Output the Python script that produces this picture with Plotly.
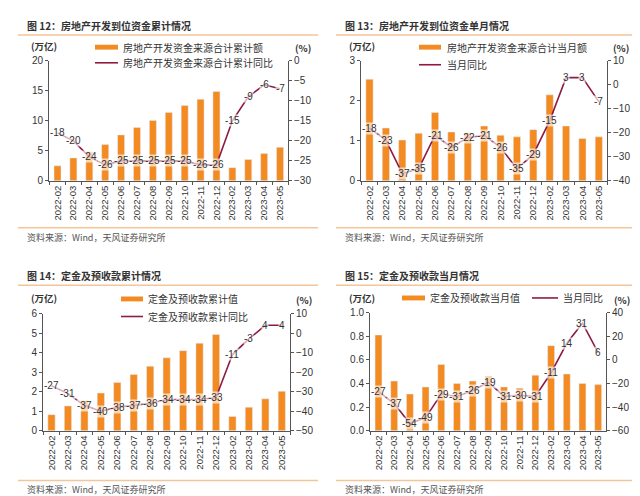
import plotly.graph_objects as go

W, H = 640, 496
CJK = "Noto Sans CJK SC"
NUM = "Liberation Sans, Arial, sans-serif"
BAR_C = "#F38A22"
LINE_C = "#8E1B45"
AX_C = "#555555"
SEP_C = "#F4C59A"

months = ["2022-02", "2022-03", "2022-04", "2022-05", "2022-06", "2022-07", "2022-08",
          "2022-09", "2022-10", "2022-11", "2022-12", "2023-02", "2023-03", "2023-04", "2023-05"]

# Panel 1: cumulative development funds (万亿) and YoY (%)
fund_cum = [2.5, 3.82, 4.86, 6.04, 7.65, 8.88, 10.07, 11.4, 12.55, 13.61, 14.9, 2.2, 3.55, 4.54, 5.59]
fund_cum_yoy = [-18, -20, -24, -26, -25, -25, -25, -25, -25, -26, -26, -15, -9, -6, -7]

# Panel 2: monthly development funds (万亿) and YoY (%)
fund_mon = [2.54, 1.32, 1.02, 1.19, 1.71, 1.22, 1.2, 1.37, 1.14, 1.1, 1.28, 2.15, 1.37, 1.06, 1.1]
fund_mon_yoy = [-18, -23, -37, -35, -21, -26, -22, -21, -26, -35, -29, -15, 3, 3, -7]

# Panel 3: cumulative deposits & advance payments (万亿) and YoY (%)
dep_cum = [0.82, 1.27, 1.55, 1.93, 2.47, 2.88, 3.3, 3.73, 4.1, 4.48, 4.93, 0.73, 1.2, 1.63, 2.02]
dep_cum_yoy = [-27, -31, -37, -40, -38, -37, -36, -34, -34, -34, -33, -11, -3, 4, 4]

# Panel 4: monthly deposits & advance payments (万亿) and YoY (%)
dep_mon = [0.81, 0.42, 0.31, 0.37, 0.56, 0.4, 0.42, 0.46, 0.37, 0.36, 0.47, 0.72, 0.48, 0.4, 0.39]
dep_mon_yoy = [-27, -37, -54, -49, -29, -31, -26, -19, -31, -30, -31, -11, 14, 31, 6]

panels = [
    dict(title="图 12：房地产开发到位资金累计情况", bars=fund_cum, yoy=fund_cum_yoy,
         bar_name="房地产开发资金来源合计累计额", line_name="房地产开发资金来源合计累计同比",
         plot=(41, 280, 48, 171), yl=(0, 20, 5, None), yr=(-30, 0, 5),
         tx=17, ty=12, sep=(10, 310, 21.5), unit=(21, 33), pct=(285, 35),
         leg_bar=(87, 110, 34), leg_bar_t=113, leg_line=(87, 110, 50), leg_line_t=113,
         bsep=219, src=(17, 229)),
    dict(title="图 13：房地产开发到位资金单月情况", bars=fund_mon, yoy=fund_mon_yoy,
         bar_name="房地产开发资金来源合计当月额", line_name="当月同比",
         plot=(353, 599, 48, 171), yl=(0, 3, 1, None), yr=(-40, 10, 10),
         tx=335, ty=12, sep=(328, 628, 21.5), unit=(339, 33), pct=(603, 35),
         leg_bar=(411, 433, 34), leg_bar_t=437, leg_line=(411, 433, 52), leg_line_t=437,
         bsep=219, src=(335, 229)),
    dict(title="图 14：定金及预收款累计情况", bars=dep_cum, yoy=dep_cum_yoy,
         bar_name="定金及预收款累计值", line_name="定金及预收款累计同比",
         plot=(35, 282, 307, 427), yl=(0, 6, 1, None), yr=(-50, 10, 10),
         tx=17, ty=268, sep=(10, 310, 278), unit=(21, 291), pct=(286, 293),
         leg_bar=(113, 135, 292), leg_bar_t=138, leg_line=(113, 135, 310), leg_line_t=138,
         bsep=478, src=(17, 487)),
    dict(title="图 15：定金及预收款当月情况", bars=dep_mon, yoy=dep_mon_yoy,
         bar_name="定金及预收款当月值", line_name="当月同比",
         plot=(362, 598, 306, 427), yl=(0, 1.0, 0.2, ".1f"), yr=(-60, 40, 20),
         tx=335, ty=268, sep=(328, 628, 278), unit=(339, 291), pct=(604, 293),
         leg_bar=(394, 417, 291), leg_bar_t=420, leg_line=(524, 550, 291), leg_line_t=553,
         bsep=478, src=(335, 487)),
]


def px(x):
    return x / W


def py(y):
    return 1 - y / H


fig = go.Figure()
annotations = []
shapes = []
layout = {}


def add_text(x, y, s, size, color, family=CJK, xanchor="left"):
    annotations.append(dict(xref="paper", yref="paper", x=px(x), y=py(y), text=s,
                            showarrow=False, xanchor=xanchor, yanchor="middle",
                            font=dict(size=size, color=color, family=family)))


for i, p in enumerate(panels):
    xn = "x" if i == 0 else f"x{i + 1}"
    yl_n = "y" if i == 0 else f"y{2 * i + 1}"
    yr_n = f"y{2 * i + 2}"
    xkey = "xaxis" if i == 0 else f"xaxis{i + 1}"
    ylkey = "yaxis" if i == 0 else f"yaxis{2 * i + 1}"
    yrkey = f"yaxis{2 * i + 2}"
    l, r, t, b = p["plot"]

    fig.add_trace(go.Bar(x=months, y=p["bars"], name=p["bar_name"], marker_color=BAR_C,
                         xaxis=xn, yaxis=yl_n, showlegend=False, hoverinfo="x+y"))
    fig.add_trace(go.Scatter(x=months, y=p["yoy"], name=p["line_name"], mode="lines",
                             line=dict(color=LINE_C, width=1.6), xaxis=xn, yaxis=yr_n,
                             showlegend=False))

    axis_common = dict(showline=True, linecolor=AX_C, linewidth=1, ticks="outside",
                       ticklen=3, tickcolor=AX_C, showgrid=False, zeroline=False,
                       tickfont=dict(size=10, color="#333333", family=NUM))
    layout[xkey] = dict(axis_common, domain=[px(l), px(r)], anchor=yl_n, type="category",
                        tickson="boundaries", tickangle=-90,
                        tickfont=dict(size=9.5, color="#333333", family=NUM))
    y0, y1, dt, fmt = p["yl"]
    layout[ylkey] = dict(axis_common, domain=[py(b), py(t)], anchor=xn, range=[y0, y1],
                         dtick=dt, tick0=0, side="left")
    if fmt:
        layout[ylkey]["tickformat"] = fmt
    r0, r1, rdt = p["yr"]
    layout[yrkey] = dict(axis_common, overlaying=yl_n, anchor=xn, side="right",
                         range=[r0, r1], dtick=rdt, tick0=0)

    # data labels on the YoY line
    for m, v in zip(months, p["yoy"]):
        annotations.append(dict(x=m, y=v, xref=xn, yref=yr_n, text=str(v), showarrow=False,
                                xanchor="center", yanchor="middle", borderpad=0,
                                bgcolor="rgba(255,255,255,0.65)",
                                font=dict(size=10, color="#333333", family=NUM)))

    # title, separators, units, source
    add_text(p["tx"], p["ty"], "<b>" + p["title"] + "</b>", 10, "#333333")
    sx0, sx1, sy = p["sep"]
    shapes.append(dict(type="line", xref="paper", yref="paper", x0=px(sx0), x1=px(sx1),
                       y0=py(sy), y1=py(sy), line=dict(color=SEP_C, width=1.5)))
    shapes.append(dict(type="line", xref="paper", yref="paper", x0=px(sx0), x1=px(sx1),
                       y0=py(p["bsep"]), y1=py(p["bsep"]), line=dict(color=SEP_C, width=1.5)))
    add_text(p["unit"][0], p["unit"][1], "<b>(万亿)</b>", 9.5, "#333333")
    add_text(p["pct"][0], p["pct"][1], "<b>(%)</b>", 9.5, "#333333")
    add_text(p["src"][0], p["src"][1], "资料来源：Wind，天风证券研究所", 9, "#555555")

    # manual legend
    bx0, bx1, by = p["leg_bar"]
    shapes.append(dict(type="rect", xref="paper", yref="paper", x0=px(bx0), x1=px(bx1),
                       y0=py(by + 2.5), y1=py(by - 2.5), fillcolor=BAR_C, line=dict(width=0)))
    add_text(p["leg_bar_t"], by, p["bar_name"], 10, "#333333")
    lx0, lx1, ly = p["leg_line"]
    shapes.append(dict(type="line", xref="paper", yref="paper", x0=px(lx0), x1=px(lx1),
                       y0=py(ly), y1=py(ly), line=dict(color=LINE_C, width=1.6)))
    add_text(p["leg_line_t"], ly, p["line_name"], 10, "#333333")

fig.update_layout(
    width=W, height=H, margin=dict(l=0, r=0, t=0, b=0),
    paper_bgcolor="white", plot_bgcolor="white",
    bargap=0.56, annotations=annotations, shapes=shapes,
    font=dict(family=CJK), **layout,
)

fig.write_html("out.html")
